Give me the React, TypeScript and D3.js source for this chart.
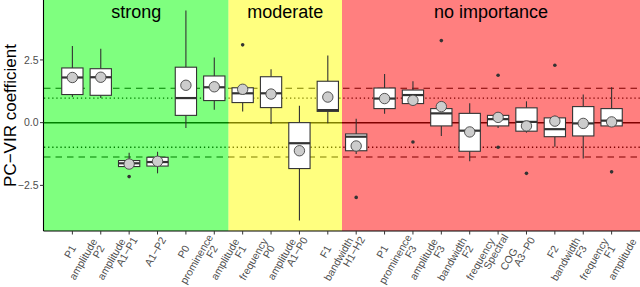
import React, { useEffect, useRef } from 'react'
import * as d3 from 'd3'

// categories (line breaks split tick labels in two lines)
const categories = [
  'P1\namplitude', 'P2\namplitude', 'A1−P1', 'A1−P2', 'P0\nprominence', 'F2\namplitude',
  'F1\nfrequency', 'P0\namplitude', 'A1−P0', 'F1\nbandwidth',
  'H1−H2', 'P1\nprominence', 'F3\namplitude', 'F3\nbandwidth', 'F2\nfrequency',
  'Spectral\nCOG', 'A3−P0', 'F2\nbandwidth', 'F3\nfrequency', 'F1\namplitude',
]

// box statistics per category
const whiskerLow = [1.02, 0.98, -1.82, -2.02, -0.21, 0.51, 0.44, -0.05, -3.9, -0.02, -1.25, 0.35, 0.68, -0.53, -1.54, -0.21, -0.4, -0.96, -1.43, -0.13]
const q1 = [1.12, 1.09, -1.75, -1.73, 0.29, 0.88, 0.8, 0.6, -1.83, 0.45, -1.12, 0.56, 0.76, -0.13, -1.14, -0.13, -0.34, -0.56, -0.53, -0.13]
const median = [1.8, 1.81, -1.62, -1.57, 0.98, 1.41, 1.17, 1.17, -0.82, 0.5, -0.56, 0.96, 1.1, 0.37, -0.32, 0.14, 0.03, -0.26, -0.03, 0.08]
const q3 = [2.18, 2.15, -1.51, -1.38, 2.21, 1.86, 1.39, 1.83, 0.0, 1.65, -0.45, 1.38, 1.3, 0.56, 0.37, 0.29, 0.59, 0.19, 0.64, 0.56]
const whiskerHigh = [3.06, 2.95, -1.2, -1.16, 4.47, 2.6, 1.39, 2.13, 0.67, 2.68, 0.16, 1.94, 1.65, 0.56, 0.77, 0.42, 0.85, 0.28, 1.12, 1.41]
const means = [1.8, 1.81, -1.65, -1.54, 1.49, 1.43, 1.33, 1.14, -1.12, 1.02, -0.93, 0.96, 0.89, 0.64, -0.37, 0.21, -0.13, 0.06, -0.03, 0.03]
const outliers: number[][] = [
  [], [], [-2.15], [], [], [],
  [3.1], [], [], [],
  [-2.98], [], [-0.77], [3.27], [], [1.89, -0.98], [-2.02], [2.29], [], [-1.96],
]

// importance regions
const regionLabels = ['strong', 'moderate', 'no importance']
const regionColors = ['#00ff00', '#ffff00', '#ff0000']
const regionStarts = [0, 6, 10]

// reference lines and axis
const yTicks = [-2.5, 0, 2.5]
const dashedRefs = [-1.37, 1.37]
const dottedRefs = [-0.98, 0.98]

const W = 640
const H = 287
const FONT = 'Liberation Sans, Arial, Helvetica, sans-serif'

export default function App() {
  const ref = useRef<SVGSVGElement>(null)

  useEffect(() => {
    const svg = d3.select(ref.current!)
    svg.selectAll('*').remove()

    const left = 44
    const right = W
    const top = 0
    const bottom = 231

    const x = d3.scalePoint<string>().domain(categories).range([left, right]).padding(1)
    const step = x.step()

    const all = [...whiskerLow, ...whiskerHigh, ...outliers.flat()]
    const lo = d3.min(all)!
    const hi = d3.max(all)!
    const pad = (hi - lo) * 0.05
    const y = d3.scaleLinear().domain([lo - pad, hi + pad]).range([bottom, top])

    // reference lines (under the translucent regions)
    const lines = svg.append('g')
    lines.append('line')
      .attr('x1', left).attr('x2', right)
      .attr('y1', y(0)).attr('y2', y(0))
      .attr('stroke', '#000').attr('stroke-width', 1.5)
    lines.selectAll('line.dash')
      .data(dashedRefs)
      .enter()
      .append('line')
      .attr('class', 'dash')
      .attr('x1', left).attr('x2', right)
      .attr('y1', d => y(d)).attr('y2', d => y(d))
      .attr('stroke', '#000').attr('stroke-width', 1.1)
      .attr('stroke-dasharray', '6.5,5')
    lines.selectAll('line.dot')
      .data(dottedRefs)
      .enter()
      .append('line')
      .attr('class', 'dot')
      .attr('x1', left).attr('x2', right)
      .attr('y1', d => y(d)).attr('y2', d => y(d))
      .attr('stroke', '#000').attr('stroke-width', 1.3)
      .attr('stroke-dasharray', '1.3,2.8')

    // regions
    const regionX0 = regionStarts.map((s, i) => (i === 0 ? left : x(categories[s])! - step / 2))
    const regionX1 = regionStarts.map((_, i) => (i === regionStarts.length - 1 ? right : regionX0[i + 1]))
    const regions = svg.append('g')
    regions.selectAll('rect')
      .data(regionLabels)
      .enter()
      .append('rect')
      .attr('x', (_, i) => regionX0[i])
      .attr('width', (_, i) => regionX1[i] - regionX0[i])
      .attr('y', top)
      .attr('height', bottom - top)
      .attr('fill', (_, i) => regionColors[i])
      .attr('fill-opacity', 0.5)
    regions.selectAll('text')
      .data(regionLabels)
      .enter()
      .append('text')
      .attr('x', (_, i) => (regionX0[i] + regionX1[i]) / 2)
      .attr('y', 18)
      .attr('text-anchor', 'middle')
      .style('font', `18px ${FONT}`)
      .attr('fill', '#000')
      .text(d => d)

    // boxes
    const bw = step * 0.75
    const boxes = svg.append('g')
      .selectAll('g')
      .data(categories)
      .enter()
      .append('g')
      .attr('transform', d => `translate(${x(d)},0)`)

    boxes.append('line')
      .attr('y1', (_, i) => y(whiskerHigh[i])).attr('y2', (_, i) => y(q3[i]))
      .attr('stroke', '#333').attr('stroke-width', 1.1)
    boxes.append('line')
      .attr('y1', (_, i) => y(q1[i])).attr('y2', (_, i) => y(whiskerLow[i]))
      .attr('stroke', '#333').attr('stroke-width', 1.1)
    boxes.append('rect')
      .attr('x', -bw / 2).attr('width', bw)
      .attr('y', (_, i) => y(q3[i]))
      .attr('height', (_, i) => y(q1[i]) - y(q3[i]))
      .attr('fill', '#fff').attr('stroke', '#333').attr('stroke-width', 1.1)
    boxes.append('line')
      .attr('x1', -bw / 2).attr('x2', bw / 2)
      .attr('y1', (_, i) => y(median[i])).attr('y2', (_, i) => y(median[i]))
      .attr('stroke', '#333').attr('stroke-width', 2.2)
    boxes.selectAll('circle.out')
      .data((_, i) => outliers[i])
      .enter()
      .append('circle')
      .attr('class', 'out')
      .attr('cy', d => y(d)).attr('r', 1.8)
      .attr('fill', '#333')
    boxes.append('circle')
      .attr('cy', (_, i) => y(means[i])).attr('r', 5.2)
      .attr('fill', '#cccccc').attr('stroke', '#444').attr('stroke-width', 0.9)

    // axes
    const axes = svg.append('g')
    axes.append('line')
      .attr('x1', left - 0.5).attr('x2', right)
      .attr('y1', bottom).attr('y2', bottom)
      .attr('stroke', '#000').attr('stroke-width', 1.1)
    axes.append('line')
      .attr('x1', left - 0.5).attr('x2', left - 0.5)
      .attr('y1', top).attr('y2', bottom)
      .attr('stroke', '#000').attr('stroke-width', 1.1)

    axes.selectAll('line.yt')
      .data(yTicks)
      .enter()
      .append('line')
      .attr('class', 'yt')
      .attr('x1', left - 4).attr('x2', left - 0.5)
      .attr('y1', d => y(d)).attr('y2', d => y(d))
      .attr('stroke', '#333')
    axes.selectAll('text.yt')
      .data(yTicks)
      .enter()
      .append('text')
      .attr('class', 'yt')
      .attr('x', left - 5.5)
      .attr('y', d => y(d))
      .attr('dy', '0.35em')
      .attr('text-anchor', 'end')
      .style('font', `10.5px ${FONT}`)
      .attr('fill', '#4d4d4d')
      .text(d => d3.format('.1f')(d))

    axes.selectAll('line.xt')
      .data(categories)
      .enter()
      .append('line')
      .attr('class', 'xt')
      .attr('x1', d => x(d)!).attr('x2', d => x(d)!)
      .attr('y1', bottom).attr('y2', bottom + 3.5)
      .attr('stroke', '#333')
    const xl = axes.selectAll('text.xt')
      .data(categories)
      .enter()
      .append('text')
      .attr('class', 'xt')
      .attr('transform', d => `translate(${x(d)},${bottom}) rotate(-60)`)
      .attr('text-anchor', 'middle')
      .style('font', `10.5px ${FONT}`)
      .attr('fill', '#4d4d4d')
    xl.selectAll('tspan')
      .data(d => d.split('\n'))
      .enter()
      .append('tspan')
      .attr('x', -19)
      .attr('y', (_, j) => 12 + j * 15)
      .text(d => d)

    // axis title
    svg.append('text')
      .attr('transform', `translate(16,${(top + bottom) / 2}) rotate(-90)`)
      .attr('text-anchor', 'middle')
      .style('font', `17px ${FONT}`)
      .attr('fill', '#000')
      .text('PC−VIR coefficient')
  }, [])

  return (
    <svg
      ref={ref}
      width={W}
      height={H}
      style={{ position: 'absolute', left: 0, top: 0, background: '#fff' }}
    />
  )
}
